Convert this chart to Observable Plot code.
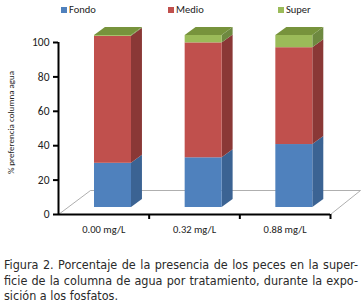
<!DOCTYPE html>
<html>
<head>
<meta charset="utf-8">
<script src="https://cdn.jsdelivr.net/npm/d3@7"></script>
<script src="https://cdn.jsdelivr.net/npm/@observablehq/plot@0.6"></script>
<style>
  html, body { margin: 0; padding: 0; background: #fff; }
  #wrap { width: 363px; height: 307px; position: relative; overflow: hidden; }
  #legend { position: relative; height: 20px; font-family: Carlito, Lato, "Open Sans", sans-serif; font-size: 10.5px; color: #222; }
  #legend .sw { position: absolute; top: 7px; width: 6px; height: 6px; }
  #legend .lb { position: absolute; top: 3px; line-height: 14px; }
  #chart svg { display: block; overflow: visible; }
  #caption { position: absolute; left: 4px; top: 257px; width: 354px;
    font-family: "Liberation Sans Narrow", "DejaVu Sans Condensed", "Roboto", sans-serif;
    font-size: 12.5px; line-height: 15.5px; color: #2a2a2a; }
  #caption .j { text-align: justify; text-align-last: justify; white-space: nowrap; }
</style>
</head>
<body>
<div id="wrap">
  <div id="legend"></div>
  <div id="chart"></div>
  <div id="caption">
    <div class="j">Figura 2. Porcentaje de la presencia de los peces en la super-</div>
    <div class="j">ficie de la columna de agua por tratamiento, durante la expo-</div>
    <div>sición a los fosfatos.</div>
  </div>
</div>
<script>
// ---- data ----
const categories = ["0.00 mg/L", "0.32 mg/L", "0.88 mg/L"];
const series = ["Fondo", "Medio", "Super"];
const fondo = [25.7, 28.9, 36.6];
const medio = [73.8, 66.8, 56.3];
const superior = [0.5, 4.3, 7.1];
const yTicks = [0, 20, 40, 60, 80, 100];
const yLabel = "% preferencia columna agua";

// ---- styles ----
const frontColors = ["#4F81BD", "#C0504D", "#9BBB59"];
const sideColors = ["#3B6393", "#8A3836", "#6E8940"];
const topColor = "#77933C";
const legendX = [61, 168, 278];

// legend
const legend = document.getElementById("legend");
series.forEach((s, k) => {
  const sw = document.createElement("span");
  sw.className = "sw"; sw.style.left = legendX[k] + "px"; sw.style.background = frontColors[k];
  const lb = document.createElement("span");
  lb.className = "lb"; lb.style.left = (legendX[k] + 8) + "px"; lb.textContent = s;
  legend.appendChild(sw); legend.appendChild(lb);
});

// build stacked rows
const values = [fondo, medio, superior];
const rows = [];
categories.forEach((c, i) => {
  let acc = 0;
  series.forEach((s, k) => {
    const v = values[k][i];
    rows.push({i, cat: c, s: k, y1: acc, y2: acc + v});
    acc += v;
  });
});

// 3D geometry (front face in x units, depth in data units)
const fx1 = 0.397, fx2 = 0.805, depthX = 0.121, depthY = 4.65;
const sidePts = rows.flatMap(r => [
  {key: r.i + "-" + r.s, x: r.i + fx2, y1: r.y1, y2: r.y2, fill: sideColors[r.s]},
  {key: r.i + "-" + r.s, x: r.i + fx2 + depthX, y1: r.y1 + depthY, y2: r.y2 + depthY, fill: sideColors[r.s]}
]);
const tops = rows.filter(r => r.s === series.length - 1);
const topPts = tops.flatMap(r => {
  const T = r.y2, a = r.i + fx1, b = r.i + fx2;
  return [
    {key: r.i, x: a, y1: T, y2: T},
    {key: r.i, x: a + depthX, y1: T, y2: T + depthY},
    {key: r.i, x: b, y1: T, y2: T + depthY},
    {key: r.i, x: b + depthX, y1: T + depthY, y2: T + depthY}
  ];
});
const floorPts = [
  {x: 0, y: 0}, {x: 0.353, y: 13.95}, {x: 3.331, y: 13.95}, {x: 3, y: 0}
];

const plot = Plot.plot({
  width: 363,
  height: 220,
  marginTop: 22,
  marginBottom: 26,
  marginLeft: 58,
  marginRight: 33,
  style: {fontFamily: "Carlito, Lato, 'Open Sans', sans-serif", fontSize: "10px", color: "#222", background: "white", overflow: "visible"},
  x: {type: "linear", domain: [0, 3]},
  y: {domain: [0, 100]},
  color: {type: "identity"},
  marks: [
    Plot.line(floorPts, {x: "x", y: "y", stroke: "#9a9a9a", strokeWidth: 0.8}),
    Plot.areaY(sidePts, {x: "x", y1: "y1", y2: "y2", z: "key", fill: "fill", dy: -7}),
    Plot.areaY(topPts, {x: "x", y1: "y1", y2: "y2", z: "key", fill: topColor, dy: -7}),
    Plot.rectY(rows, {x1: d => d.i + fx1, x2: d => d.i + fx2, y1: "y1", y2: "y2", fill: d => frontColors[d.s], dy: -7}),
    Plot.ruleY([0], {x1: 0, x2: 3, stroke: "#000", strokeWidth: 2}),
    Plot.ruleX([0], {y1: 0, y2: 100, stroke: "#000", strokeWidth: 2}),
    Plot.axisY(yTicks, {tickSize: 5, tickPadding: 4, fontSize: 11.5, strokeWidth: 2, stroke: "#000", tickFormat: d => String(d), label: null}),
    Plot.axisX([1, 2, 3], {tickSize: 5, tickFormat: () => "", strokeWidth: 2, stroke: "#000", label: null}),
    Plot.axisX([0.5, 1.5, 2.5], {tickSize: 0, tickPadding: 11, fontSize: 10.5, label: null, tickFormat: d => categories[Math.floor(d)]}),
    Plot.text([yLabel], {text: d => d, frameAnchor: "left", rotate: -90, textAnchor: "middle", lineAnchor: "middle", dx: -47, dy: -6, fontSize: 9, fill: "#222"})
  ]
});
document.getElementById("chart").appendChild(plot);
</script>
</body>
</html>
